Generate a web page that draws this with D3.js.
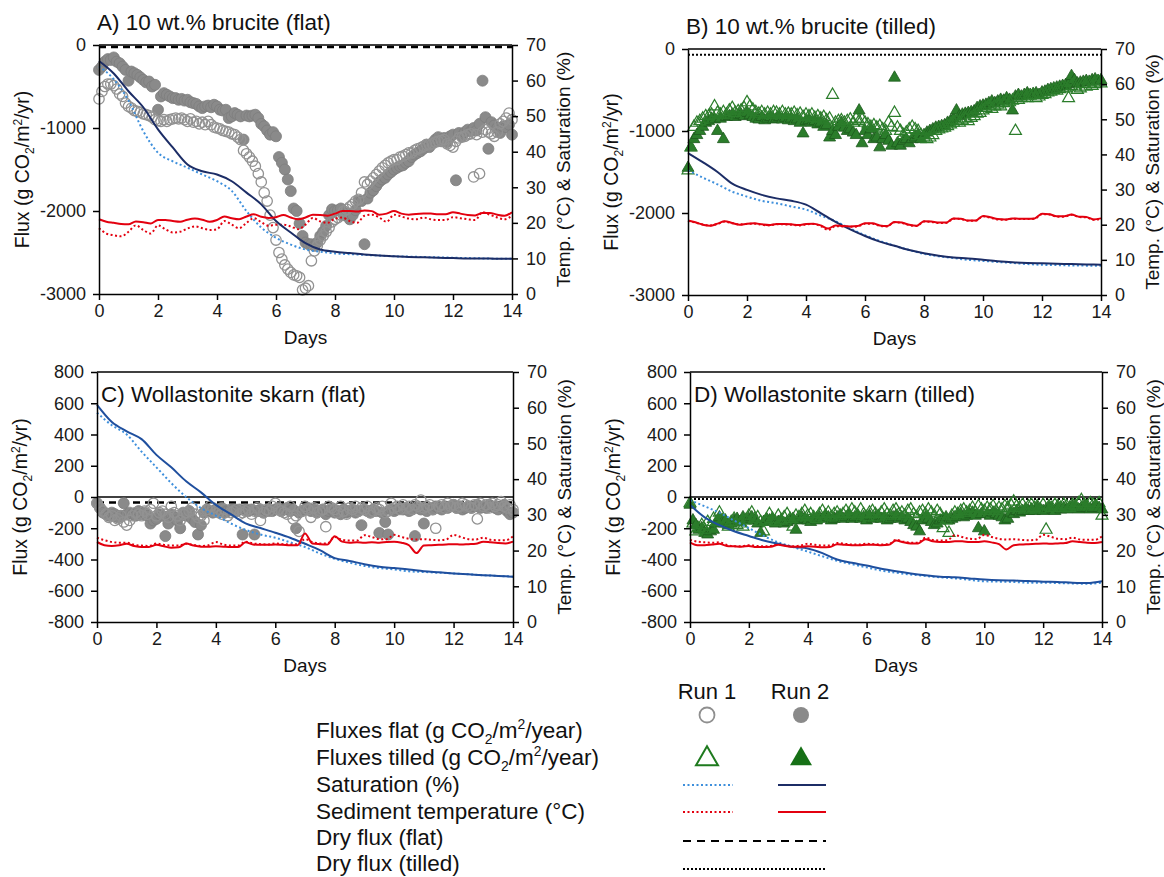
<!DOCTYPE html>
<html>
<head>
<meta charset="utf-8">
<script src="https://cdn.jsdelivr.net/npm/d3@7"></script>
<style>
  html, body { margin: 0; padding: 0; background: #fff; }
  svg { display: block; }
</style>
</head>
<body>
<svg id="chart" width="1164" height="877"></svg>
<script>
/* DATA */

// sampling grids: fluxes every 0.1 day, temperature every 0.25 day, saturation every 0.5 day
const scatterDays = d3.range(141).map(i => i / 10);
const tempDays = d3.range(57).map(i => i / 4);
const satDays = d3.range(29).map(i => i / 2);

const dayTicks = [0, 2, 4, 6, 8, 10, 12, 14];
const rightTicks = [0, 10, 20, 30, 40, 50, 60, 70];
const fluxTicksBrucite = [-3000, -2000, -1000, 0];
const fluxTicksSkarn = [-800, -600, -400, -200, 0, 200, 400, 600, 800];

// dry fluxes (g CO2/m2/yr): flat -> panels A, C ; tilled -> panels B, D
const dryFluxFlat = [-25, -35];
const dryFluxTilled = [-70, -12];

// A) 10 wt.% brucite (flat)
const fluxA1 = [
  -650,-560,-500,-470,-470,-490,-530,-590,-620,-700,
  -740,-760,-790,-800,-810,-830,-840,-850,-870,-900,
  -910,-920,-900,-920,-900,-890,-880,-890,-880,-900,
  -920,-890,-930,-920,-950,-930,-960,-920,-960,-990,
  -1000,-1010,-1030,-1040,-1050,-1070,-1080,-1110,-1140,-1270,
  -1310,-1350,-1400,-1460,-1550,-1650,-1780,-1880,-2050,-2200,
  -2350,-2500,-2580,-2650,-2700,-2740,-2770,-2780,-2800,-2950,
  -2930,-2900,-2600,-2480,-2420,-2350,-2300,-2250,-2200,-2130,
  -2100,-2080,-2050,-2000,-1980,-1950,-1920,-1880,-1860,-1780,
  -1650,-1680,-1640,-1600,-1560,-1520,-1480,-1450,-1420,-1400,
  -1380,-1380,-1350,-1340,-1320,-1300,-1300,-1270,-1250,-1240,
  -1220,-1200,-1200,-1190,-1170,-1160,-1150,-1140,-1190,-1210,
  -1230,-1160,-1120,-1110,-1100,-1080,-1070,-1590,-1080,-1550,
  -1050,-1020,-1050,-1070,-1100,-1050,-950,-920,-880,-820,
  -900
];
const fluxA2 = [
  -300,-260,-200,-170,-180,-150,-200,-220,-260,-300,
  -430,-320,-340,-360,-390,-420,-450,-440,-500,-480,
  -780,-620,-580,-600,-620,-640,-640,-660,-650,-670,
  -660,-690,-700,-710,-740,-760,-740,-730,-750,-720,
  -740,-780,-790,-780,-880,-860,-820,-840,-860,-1140,
  -850,-860,-850,-840,-880,-950,-980,-1030,-1080,-1050,
  -1100,-1350,-1420,-1500,-1620,-1760,-1970,-2000,-2150,-2300,
  -2380,-2400,-2400,-2420,-2380,-2300,-2250,-2180,-2050,-1980,
  -2000,-1990,-1970,-2050,-2030,-2100,-2050,-1990,-1880,-1880,
  -2400,-1850,-1780,-1750,-1700,-1650,-1620,-1600,-1560,-1530,
  -1500,-1480,-1460,-1450,-1420,-1400,-1350,-1320,-1300,-1280,
  -1250,-1200,-1230,-1180,-1140,-1110,-1160,-1120,-1170,-1100,
  -1080,-1630,-1060,-1100,-1050,-1020,-1040,-1000,-1030,-950,
  -430,-870,-1250,-930,-970,-1000,-1060,-980,-990,-960,
  -1080
];
const satA1 = [64, 60.4, 54.4, 45.8, 39.7, 37.3, 35.5, 33.6, 31.7, 29, 23.3, 18.7, 15.8, 13.9, 12.5,
  11.9, 11.4, 11.2, 11.0, 10.8, 10.6, 10.5, 10.4, 10.3, 10.2, 10.1, 10.0, 9.9, 9.9];
const satA2 = [65.5, 62, 57, 52.5, 46.3, 41.2, 36.4, 34.5, 33.6, 31.7, 28.5, 25.2, 20.5, 17.3, 14.3,
  12.5, 11.9, 11.5, 11.1, 10.8, 10.6, 10.4, 10.3, 10.2, 10.1, 10.0, 10.0, 9.9, 9.9];
const tempA1 = [
  18.5, 17, 16.5, 16.2,  17.5, 19.3, 18, 17,  19.3, 18.2, 17.3, 17.5,  18.4, 19, 18.5, 18,
  18.2, 20.5, 19.5, 18.5,  20, 21.3, 20.2, 19.2,  19.5, 19.5, 19, 18.2,  19.5, 21.4, 20.4, 20,
  21.2, 21.5, 20.5, 20,  22, 22.3, 21.5, 20.3,  22.3, 21.8, 21.2, 21,  21.5, 21, 20.8, 20.8,
  21.6, 21.3, 21, 20.8,  23, 22.3, 21.5, 21,  22
];
const tempA2 = [
  21, 20.3, 20, 19.7,  19.6, 20.4, 20.2, 19.8,  20.8, 20.8, 20.5, 20.3,  20.9, 21.2, 20.9, 20.3,
  20.8, 21.8, 21.3, 21,  21.8, 22.4, 21.7, 21.4,  21.6, 22.2, 21.5, 21,  21.5, 22.3, 22.2, 22,
  22.6, 23.3, 23.3, 23.2,  23.5, 23.3, 22.3, 22.6,  23.3, 22.6, 22.3, 22.5,  22.6, 22.6, 22.4, 22.4,
  23, 22.6, 22.2, 22.1,  22.8, 22.8, 22.3, 22,  23
];

// B) 10 wt.% brucite (tilled)
const fluxB1 = [
  -1480,-1200,-950,-900,-880,-850,-820,-820,-800,-700,
  -780,-800,-770,-800,-750,-720,-780,-760,-750,-720,
  -650,-700,-740,-770,-790,-770,-800,-780,-800,-770,
  -780,-800,-770,-800,-790,-800,-780,-810,-790,-830,
  -800,-820,-800,-840,-820,-850,-830,-870,-850,-560,
  -900,-880,-870,-900,-880,-860,-900,-850,-880,-860,
  -900,-920,-950,-930,-960,-940,-980,-1000,-900,-950,
  -780,-960,-1000,-1050,-1020,-980,-950,-980,-1000,-1050,
  -1080,-1100,-1080,-1050,-1000,-980,-970,-960,-940,-920,
  -900,-880,-900,-870,-850,-880,-840,-820,-790,-780,
  -750,-720,-700,-730,-700,-680,-700,-660,-640,-650,
  -630,-1000,-620,-600,-580,-600,-570,-560,-600,-580,
  -560,-550,-530,-520,-500,-510,-490,-470,-480,-600,
  -450,-460,-500,-480,-430,-460,-420,-450,-430,-400,
  -420
];
const fluxB2 = [
  -1450,-1200,-1100,-1050,-1000,-950,-900,-880,-850,-860,
  -1000,-850,-1100,-830,-820,-800,-830,-810,-800,-820,
  -780,-810,-830,-850,-860,-830,-870,-850,-830,-860,
  -850,-830,-860,-840,-870,-850,-880,-860,-900,-1030,
  -880,-870,-900,-880,-920,-900,-950,-930,-1080,-1000,
  -1050,-950,-900,-960,-1000,-980,-1020,-1050,-750,-1150,
  -1000,-1050,-980,-1100,-1080,-1200,-1100,-1050,-1120,-1180,
  -350,-1150,-1180,-1120,-1100,-1150,-1100,-1080,-1050,-1100,
  -1050,-1020,-1000,-980,-960,-950,-940,-930,-900,-880,
  -850,-750,-820,-800,-790,-780,-770,-760,-720,-700,
  -690,-680,-660,-640,-660,-640,-620,-630,-600,-620,
  -750,-580,-560,-580,-560,-540,-560,-550,-540,-560,
  -530,-520,-500,-490,-480,-470,-460,-450,-440,-430,
  -330,-380,-420,-410,-400,-390,-400,-380,-370,-390,
  -380
];
const satB1 = [35.5, 33.4, 31.5, 29.4, 28, 26.8, 26.1, 25.2, 24.3, 22.6, 21, 18.9, 17, 15.4, 14,
  12.8, 11.7, 11, 10.5, 10, 9.7, 9.4, 9.1, 8.8, 8.6, 8.5, 8.4, 8.35, 8.3];
const satB2 = [40.4, 37.8, 35, 31.7, 29.9, 28.5, 27.5, 26.8, 25.7, 23.3, 20.8, 18.7, 16.8, 15.2, 14,
  12.8, 11.9, 11.2, 10.7, 10.4, 10.0, 9.6, 9.3, 9.1, 9.0, 8.9, 8.8, 8.7, 8.6];
const tempB1 = [
  21.1, 20.6, 20.1, 19.8,  20.2, 20.9, 20.4, 20.1,  20.2, 20.3, 20.0, 19.8,  20.1, 20.1, 20.0, 19.8,
  20.1, 20.2, 19.6, 18.5,  19.6, 19.5, 19.4, 19.5,  20.3, 20.3, 19.7, 19.5,  20.7, 20.5, 19.9, 19.6,
  20.9, 20.8, 20.5, 20.5,  21.7, 21.6, 21.1, 21.1,  22.4, 22.0, 21.5, 21.4,  21.7, 21.6, 21.6, 21.7,
  23.0, 22.9, 22.3, 22.3,  22.8, 22.2, 22.1, 21.4,  21.7
];
const tempB2 = [
  21.2, 20.7, 20, 19.7,  20.3, 21, 20.5, 20,  20.3, 20.4, 20.1, 19.9,  20.2, 20.2, 20.1, 19.9,
  20.2, 20.3, 19.8, 18.9,  19.8, 19.6, 19.5, 19.6,  20.4, 20.4, 19.8, 19.6,  20.8, 20.6, 20, 19.7,
  21, 20.9, 20.6, 20.6,  21.8, 21.7, 21.2, 21.2,  22.5, 22.1, 21.6, 21.5,  21.8, 21.7, 21.7, 21.8,
  23.1, 23, 22.4, 22.4,  22.9, 22.3, 22.2, 21.5,  21.8
];

// C) Wollastonite skarn (flat)
const fluxC1 = [
  -40,-70,-90,-110,-130,-120,-150,-140,-120,-160,
  -180,-150,-120,-100,-110,-120,-90,-110,-80,-40,
  -120,-100,-90,-110,-130,-60,-100,-120,-150,-110,
  -100,-90,-70,-110,-130,-120,-150,-80,-60,-70,
  -90,-100,-110,-80,-120,-100,-90,-80,-110,-100,
  -90,-80,-110,-90,-70,-150,-100,-80,-90,-60,
  -40,-80,-90,-100,-110,-60,-140,-120,-220,-90,
  -60,-80,-130,-70,-100,-90,-80,-190,-60,-70,
  -80,-100,-60,-90,-110,-70,-80,-60,-90,-70,
  -80,-60,-100,-90,-70,-80,-60,-100,-90,-40,
  -70,-60,-80,-50,-70,-60,-80,-50,-60,-20,
  -70,-60,-50,-80,-200,-60,-50,-70,-40,-60,
  -50,-70,-60,-40,-50,-60,-70,-50,-140,-40,
  -60,-50,-70,-40,-60,-50,-30,-60,-70,-50,
  -80
];
const fluxC2 = [
  -40,-70,-100,-110,-120,-100,-110,-130,-120,-40,
  -110,-100,-110,-120,-90,-110,-100,-120,-170,-150,
  -140,-110,-120,-250,-170,-110,-130,-150,-200,-100,
  -120,-90,-140,-160,-240,-180,-100,-80,-90,-100,
  -80,-90,-70,-100,-90,-80,-80,-90,-80,-240,
  -80,-90,-80,-240,-90,-80,-100,-90,-80,-90,
  -80,-70,-90,-80,-70,-90,-80,-200,-100,-90,
  -80,-70,-90,-80,-100,-90,-80,-110,-90,-80,
  -100,-90,-110,-80,-100,-90,-80,-100,-90,-180,
  -80,-90,-100,-80,-90,-230,-100,-160,-240,-80,
  -90,-80,-70,-80,-70,-90,-80,-250,-70,-80,
  -170,-90,-70,-80,-60,-70,-80,-60,-70,-60,
  -50,-70,-60,-80,-70,-60,-70,-60,-50,-70,
  -60,-70,-50,-60,-70,-80,-60,-50,-90,-110,
  -100
];
const satC1 = [58.6, 55.1, 52.5, 47.7, 43.3, 38.9, 35, 31.9, 29.8, 27.6, 25.8, 24.5, 23.6, 22.3, 21,
  19.2, 17.7, 16.6, 15.7, 15.1, 14.7, 14.2, 14, 13.8, 13.6, 13.35, 13.1, 12.9, 12.7];
const satC2 = [60.8, 56, 53.4, 51.2, 46.8, 43.3, 39.4, 36.3, 32.8, 30.2, 27.6, 26.3, 25, 23.6, 21.9,
  20.1, 17.9, 17.1, 16.2, 15.5, 15.1, 14.7, 14.2, 13.9, 13.6, 13.35, 13.1, 12.9, 12.7];
const tempC1 = [
  23.6, 22.9, 22.4, 22.2,  22.2, 21.6, 21.4, 21.3,  22, 21.6, 21.4, 21.4,  21.9, 21.6, 21.3, 21.5,
  22.4, 21.7, 21.4, 21.4,  22.5, 22, 21.8, 21.7,  22, 21.8, 21.7, 21.7,  23.2, 22.4, 22, 22,
  23.8, 23, 22.8, 22.8,  24.3, 23.8, 23.2, 23.2,  24.4, 23.8, 23.3, 23.1,  23.2, 23, 22.9, 23.1,
  24.4, 23.8, 23.2, 23.1,  23.6, 23, 22.9, 22.9,  24
];
const tempC2 = [
  22.4, 21.5, 21.3, 21.5,  21.9, 21.3, 21, 21,  21.6, 21.2, 20.8, 20.9,  22, 21.4, 21.1, 21.1,
  21.2, 21.1, 21, 21,  22.3, 21.7, 21.6, 21.6,  21.7, 21.6, 21.5, 21.5,  24.8, 22, 21.8, 21.7,
  24, 22.5, 22.2, 22.3,  22.2, 22.3, 22.2, 22.4,  22.5, 22.2, 21.5, 19.3,  21.4, 21.5, 21.6, 21.7,
  21.8, 21.7, 21.8, 21.9,  22.5, 22.3, 22.1, 22,  22.5
];

// D) Wollastonite skarn (tilled)
const fluxD1 = [
  -40,-170,-220,-200,-180,-210,-160,-190,-140,-160,
  -100,-150,-170,-190,-160,-140,-180,-170,-190,-150,
  -120,-100,-140,-130,-160,-220,-150,-110,-140,-160,
  -120,-150,-130,-110,-140,-190,-120,-130,-110,-90,
  -120,-110,-130,-140,-110,-90,-120,-100,-130,-110,
  -100,-120,-110,-90,-110,-80,-100,-120,-80,-110,
  -130,-100,-90,-110,-130,-100,-80,-110,-120,-90,
  -80,-110,-100,-120,-90,-80,-110,-130,-100,-90,
  -110,-80,-100,-120,-90,-110,-200,-150,-230,-120,
  -100,-110,-90,-80,-100,-90,-70,-100,-60,-80,
  -90,-70,-80,-60,-90,-70,-80,-60,-70,-50,
  -30,-60,-70,-50,-80,-60,-50,-70,-60,-80,
  -50,-210,-60,-70,-50,-60,-70,-50,-60,-70,
  -50,-60,-40,-20,-50,-60,-40,-50,-60,-40,
  -120
];
const fluxD2 = [
  -50,-150,-180,-210,-200,-230,-240,-220,-210,-170,
  -130,-160,-150,-180,-170,-150,-140,-160,-130,-150,
  -140,-130,-150,-170,-230,-160,-140,-150,-140,-170,
  -160,-150,-170,-160,-150,-140,-210,-150,-130,-140,
  -150,-160,-140,-150,-130,-140,-120,-130,-150,-140,
  -130,-120,-140,-130,-120,-140,-130,-120,-140,-130,
  -150,-120,-140,-130,-120,-140,-130,-150,-140,-130,
  -120,-140,-130,-150,-140,-160,-180,-190,-220,-150,
  -130,-140,-160,-180,-170,-150,-140,-130,-150,-140,
  -130,-120,-110,-130,-120,-110,-100,-120,-200,-110,
  -220,-110,-120,-100,-110,-120,-130,-150,-140,-100,
  -110,-90,-100,-90,-80,-90,-80,-90,-70,-80,
  -90,-80,-70,-80,-90,-70,-80,-70,-80,-70,
  -60,-70,-80,-70,-60,-70,-80,-70,-60,-70,
  -80
];
const satD1 = [34.1, 32.4, 30.6, 28.4, 26.3, 24.1, 22.3, 21, 19.7, 18.4, 17.1, 16.2, 15.3, 14.4, 13.8,
  13.3, 12.9, 12.5, 12.2, 11.8, 11.4, 11.3, 11.2, 11, 11, 10.9, 10.8, 10.7, 11];
const satD2 = [32.8, 29.3, 27.1, 25.4, 24.1, 22.8, 21.9, 21, 20.6, 19.3, 17.5, 16.6, 15.8, 14.9, 14.2,
  13.6, 13.1, 12.7, 12.5, 12.2, 11.9, 11.7, 11.6, 11.5, 11.3, 11.2, 11, 10.9, 11.4];
const tempD1 = [
  23, 22.5, 22.3, 22.2,  22.3, 21.6, 21.2, 21.2,  21.5, 21.3, 21.2, 21.3,  21.8, 21.5, 21.2, 21.4,
  21.9, 21.6, 21.4, 21.4,  22.1, 21.9, 21.7, 21.7,  21.9, 21.8, 21.7, 21.8,  23, 22.5, 22.2, 22.2,
  23.6, 23, 22.8, 22.9,  24.3, 23.8, 23.3, 23.2,  24.4, 23.8, 23.3, 23.1,  23.2, 23, 22.9, 23,
  24.4, 23.9, 23.3, 23.2,  23.6, 23.1, 23, 23,  24
];
const tempD2 = [
  22.3, 21.5, 21.5, 21.7,  21.9, 21.3, 21.2, 21.1,  21.3, 21, 21, 21.1,  21.6, 21.3, 21.1, 21.1,
  21.2, 21.1, 20.9, 21,  21.8, 21.6, 21.5, 21.5,  21.6, 21.6, 21.5, 21.6,  22.8, 22.3, 22, 22,
  23.2, 22.6, 22.4, 22.4,  22.6, 22.6, 22.4, 22.4,  22.6, 22.3, 21.8, 20.3,  21.5, 21.7, 21.8, 21.9,
  22, 21.9, 22, 22.1,  22.6, 22.4, 22.2, 22.1,  22.4
];

/* LAYOUT */

const font = "'Liberation Sans', Arial, Helvetica, sans-serif";
const grey = "#8a8a8a";
const green = "#2b7d2b";
const lightBlue = "#3d8fdc";
const red = "#e3000f";

const panels = [
  { title: "A) 10 wt.% brucite (flat)", titleX: 97, titleY: 30,
    left: 99, right: 512, top: 45, bottom: 294,
    fluxDomain: [-3000, 0], fluxTicks: fluxTicksBrucite, marker: "circle",
    run1: fluxA1, run2: fluxA2, sat1: satA1, sat2: satA2, temp1: tempA1, temp2: tempA2,
    satColor: "#1c2d66", dry: dryFluxFlat[0], dryStyle: "dash", zeroLine: false },
  { title: "B) 10 wt.% brucite (tilled)", titleX: 686, titleY: 34,
    left: 688, right: 1101, top: 49, bottom: 295,
    fluxDomain: [-3000, 0], fluxTicks: fluxTicksBrucite, marker: "triangle",
    run1: fluxB1, run2: fluxB2, sat1: satB1, sat2: satB2, temp1: tempB1, temp2: tempB2,
    satColor: "#1c2d66", dry: dryFluxTilled[0], dryStyle: "dot", zeroLine: false },
  { title: "C) Wollastonite skarn (flat)", titleX: 101, titleY: 402,
    left: 97, right: 513, top: 372, bottom: 622,
    fluxDomain: [-800, 800], fluxTicks: fluxTicksSkarn, marker: "circle",
    run1: fluxC1, run2: fluxC2, sat1: satC1, sat2: satC2, temp1: tempC1, temp2: tempC2,
    satColor: "#1f4f9e", dry: dryFluxFlat[1], dryStyle: "dash", zeroLine: true },
  { title: "D) Wollastonite skarn (tilled)", titleX: 694, titleY: 402,
    left: 690, right: 1102, top: 372, bottom: 622,
    fluxDomain: [-800, 800], fluxTicks: fluxTicksSkarn, marker: "triangle",
    run1: fluxD1, run2: fluxD2, sat1: satD1, sat2: satD2, temp1: tempD1, temp2: tempD2,
    satColor: "#1f4f9e", dry: dryFluxTilled[1], dryStyle: "dot", zeroLine: true }
];

const svg = d3.select("#chart").attr("font-family", font);

// "Flux (g CO2/m2/yr)" style text with sub- and superscript
function co2Text(text, lead, tail, size) {
  text.append("tspan").text(lead + " (g CO");
  text.append("tspan").attr("dy", size * 0.28).attr("font-size", size * 0.62).text("2");
  text.append("tspan").attr("dy", -size * 0.28).text("/m");
  text.append("tspan").attr("dy", -size * 0.38).attr("font-size", size * 0.62).text("2");
  text.append("tspan").attr("dy", size * 0.38).text(tail);
}

function styleAxis(sel) {
  sel.attr("font-family", font).attr("font-size", 18);
  sel.select(".domain").attr("stroke", "#000").attr("stroke-width", 1.5);
  sel.selectAll(".tick line").attr("stroke", "#000").attr("stroke-width", 1.5);
  sel.selectAll(".tick text").attr("fill", "#1a1a1a");
}

function drawPanel(p) {
  const x = d3.scaleLinear().domain([0, 14]).range([p.left, p.right]);
  const y = d3.scaleLinear().domain(p.fluxDomain).range([p.bottom, p.top]);
  const yR = d3.scaleLinear().domain([0, 70]).range([p.bottom, p.top]);
  const g = svg.append("g");

  // reference lines
  if (p.zeroLine) {
    g.append("line")
      .attr("x1", p.left).attr("x2", p.right)
      .attr("y1", y(0)).attr("y2", y(0))
      .attr("stroke", "#000").attr("stroke-width", 1.5);
  }
  g.append("line")
    .attr("x1", p.left).attr("x2", p.right)
    .attr("y1", y(p.dry)).attr("y2", y(p.dry))
    .attr("stroke", "#000").attr("stroke-width", p.dryStyle === "dash" ? 2.5 : 2)
    .attr("stroke-dasharray", p.dryStyle === "dash" ? "7,5" : "2,2");

  // fluxes
  const pts1 = scatterDays.map((d, i) => ({ d: d, v: p.run1[i] }));
  const pts2 = scatterDays.map((d, i) => ({ d: d, v: p.run2[i] }));

  if (p.marker === "circle") {
    g.append("g").selectAll("circle")
      .data(pts2)
      .join("circle")
      .attr("cx", d => x(d.d))
      .attr("cy", d => y(d.v))
      .attr("r", 5.5)
      .attr("fill", grey)
      .attr("stroke", "#7d7d7d")
      .attr("stroke-width", 0.8);
    g.append("g").selectAll("circle")
      .data(pts1)
      .join("circle")
      .attr("cx", d => x(d.d))
      .attr("cy", d => y(d.v))
      .attr("r", 5.2)
      .attr("fill", "none")
      .attr("stroke", "#929292")
      .attr("stroke-width", 1.3);
  } else {
    const tri = d3.symbol().type(d3.symbolTriangle).size(62);
    g.append("g").selectAll("path")
      .data(pts2)
      .join("path")
      .attr("d", tri)
      .attr("transform", d => `translate(${x(d.d)},${y(d.v)})`)
      .attr("fill", green)
      .attr("stroke", "#1d5a1d")
      .attr("stroke-width", 0.8);
    g.append("g").selectAll("path")
      .data(pts1)
      .join("path")
      .attr("d", tri)
      .attr("transform", d => `translate(${x(d.d)},${y(d.v)})`)
      .attr("fill", "none")
      .attr("stroke", green)
      .attr("stroke-width", 1.2);
  }

  // saturation and temperature on the right axis
  const line = d3.line()
    .x(d => x(d.d))
    .y(d => yR(d.v))
    .curve(d3.curveMonotoneX);
  const series = [
    { days: satDays, vals: p.sat1, color: lightBlue, dash: "2,2.5" },
    { days: tempDays, vals: p.temp1, color: red, dash: "2,2.5" },
    { days: satDays, vals: p.sat2, color: p.satColor, dash: null },
    { days: tempDays, vals: p.temp2, color: red, dash: null }
  ];
  series.forEach(s => {
    g.append("path")
      .datum(s.days.map((d, i) => ({ d: d, v: s.vals[i] })))
      .attr("d", line)
      .attr("fill", "none")
      .attr("stroke", s.color)
      .attr("stroke-width", 2)
      .attr("stroke-dasharray", s.dash);
  });

  // frame + axes
  g.append("line")
    .attr("x1", p.left).attr("x2", p.right)
    .attr("y1", p.top).attr("y2", p.top)
    .attr("stroke", "#000").attr("stroke-width", 1.5);

  g.append("g")
    .attr("transform", `translate(${p.left},0)`)
    .call(d3.axisLeft(y).tickValues(p.fluxTicks).tickFormat(d => String(d))
      .tickSize(6).tickSizeOuter(0).tickPadding(7))
    .call(styleAxis);

  g.append("g")
    .attr("transform", `translate(${p.right},0)`)
    .call(d3.axisRight(yR).tickValues(rightTicks).tickFormat(d => String(d))
      .tickSize(6).tickSizeOuter(0).tickPadding(8))
    .call(styleAxis);

  g.append("g")
    .attr("transform", `translate(0,${p.bottom})`)
    .call(d3.axisBottom(x).tickValues(dayTicks).tickFormat(d => String(d))
      .tickSize(6).tickSizeOuter(0).tickPadding(4))
    .call(styleAxis);

  // labels
  const midY = (p.top + p.bottom) / 2;
  g.append("text")
    .attr("x", p.titleX).attr("y", p.titleY)
    .attr("font-size", 22.5).attr("fill", "#111")
    .text(p.title);

  g.append("text")
    .attr("x", (p.left + p.right) / 2).attr("y", p.bottom + 50)
    .attr("text-anchor", "middle").attr("font-size", 19).attr("fill", "#111")
    .text("Days");

  const fl = g.append("text")
    .attr("transform", `translate(${p.left - 70},${midY}) rotate(-90)`)
    .attr("text-anchor", "middle").attr("font-size", 19.5).attr("fill", "#111");
  co2Text(fl, "Flux", "/yr)", 19.5);

  g.append("text")
    .attr("transform", `translate(${p.right + 58},${midY}) rotate(-90)`)
    .attr("text-anchor", "middle").attr("font-size", 19).attr("fill", "#111")
    .text("Temp. (°C) & Saturation (%)");
}

panels.forEach(drawPanel);

/* LEGEND */

const lg = svg.append("g").attr("font-size", 22.5).attr("fill", "#111");

lg.append("text").attr("x", 707).attr("y", 699).attr("font-size", 22).attr("text-anchor", "middle").text("Run 1");
lg.append("text").attr("x", 800).attr("y", 699).attr("font-size", 22).attr("text-anchor", "middle").text("Run 2");

const legendTextX = 316;
co2Text(lg.append("text").attr("x", legendTextX).attr("y", 738), "Fluxes flat", "/year)", 22.5);
co2Text(lg.append("text").attr("x", legendTextX).attr("y", 765), "Fluxes tilled", "/year)", 22.5);
lg.append("text").attr("x", legendTextX).attr("y", 792).text("Saturation (%)");
lg.append("text").attr("x", legendTextX).attr("y", 819).text("Sediment temperature (°C)");
lg.append("text").attr("x", legendTextX).attr("y", 845).text("Dry flux (flat)");
lg.append("text").attr("x", legendTextX).attr("y", 871).text("Dry flux (tilled)");

lg.append("circle").attr("cx", 707).attr("cy", 715).attr("r", 7.5)
  .attr("fill", "none").attr("stroke", "#8f8f8f").attr("stroke-width", 1.8);
lg.append("circle").attr("cx", 801).attr("cy", 715).attr("r", 8)
  .attr("fill", grey);

const bigTri = d3.symbol().type(d3.symbolTriangle).size(210);
lg.append("path").attr("d", bigTri).attr("transform", "translate(707,759)")
  .attr("fill", "none").attr("stroke", "#1e7a1e").attr("stroke-width", 2);
lg.append("path").attr("d", bigTri).attr("transform", "translate(801,759)")
  .attr("fill", "#167016");

function legendLine(x1, x2, yy, color, dash) {
  lg.append("line").attr("x1", x1).attr("x2", x2).attr("y1", yy).attr("y2", yy)
    .attr("stroke", color).attr("stroke-width", 2).attr("stroke-dasharray", dash);
}
legendLine(683, 733, 785, lightBlue, "2,2.5");
legendLine(778, 826, 785, "#1c2d66", null);
legendLine(683, 733, 812, red, "2,2.5");
legendLine(778, 826, 812, red, null);
legendLine(683, 826, 841, "#000", "8,6");
legendLine(683, 826, 869, "#000", "2,2");
</script>
</body>
</html>
